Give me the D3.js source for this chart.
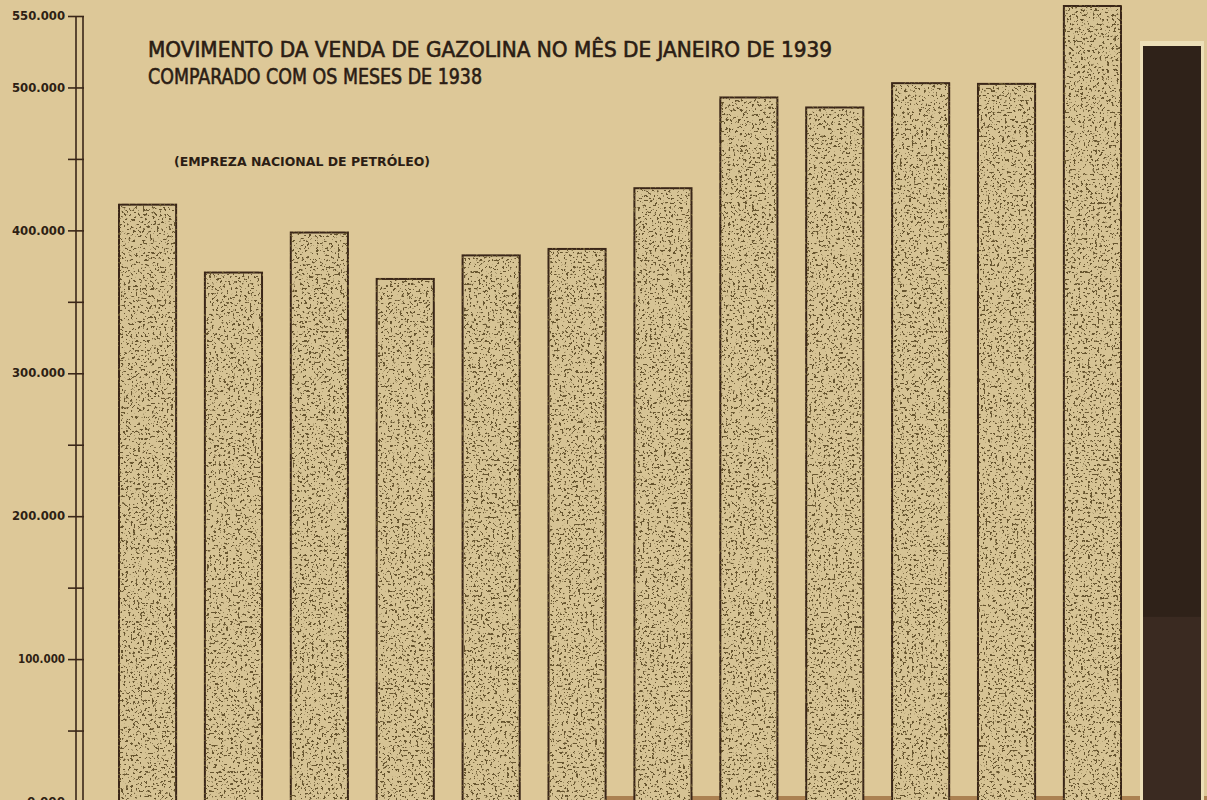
<!DOCTYPE html>
<html>
<head>
<meta charset="utf-8">
<script src="https://cdn.jsdelivr.net/npm/d3@7"></script>
<style>
  html, body { margin: 0; padding: 0; background: #ddc898; }
  svg { display: block; }
</style>
</head>
<body>
<svg id="chart" width="1207" height="800"></svg>
<script>
// ---- data ----
const months1938 = ["Jan 1938","Fev 1938","Mar 1938","Abr 1938","Mai 1938","Jun 1938",
                    "Jul 1938","Ago 1938","Set 1938","Out 1938","Nov 1938","Dez 1938"];
const months1939 = ["Jan 1939"];
const sales1938 = [418000, 370500, 398500, 366000, 382500, 387000,
                   429500, 493000, 486000, 503000, 502500, 557000];
const sales1939 = [529000];
const tickValues = [0, 50000, 100000, 150000, 200000, 250000, 300000, 350000, 400000, 450000, 500000, 550000];
const tickLabels = ["0.000", "", "100.000", "", "200.000", "", "300.000", "", "400.000", "", "500.000", "550.000"];
const titleLines = ["MOVIMENTO DA VENDA  DE GAZOLINA NO MÊS DE JANEIRO DE 1939",
                    "COMPARADO COM OS MESES DE 1938"];
const sourceNote = "(EMPREZA NACIONAL DE PETRÓLEO)";

const data1938 = months1938.map((m, i) => ({ month: m, value: sales1938[i] }));
const data1939 = months1939.map((m, i) => ({ month: m, value: sales1939[i] }));

// ---- chart ----
const svg = d3.select("#chart");
const W = 1207, H = 800;

const defs = svg.append("defs");
const f = defs.append("filter").attr("id", "stip")
  .attr("x", "-10%").attr("y", "-2%").attr("width", "120%").attr("height", "104%")
  .attr("color-interpolation-filters", "sRGB");
f.append("feTurbulence").attr("type", "fractalNoise").attr("baseFrequency", "0.42")
  .attr("numOctaves", 2).attr("seed", 11).attr("result", "n");
f.append("feColorMatrix").attr("in", "n").attr("type", "matrix")
  .attr("values", "0 0 0 0 0.40  0 0 0 0 0.33  0 0 0 0 0.18  16 0 0 0 -9.6").attr("result", "d");
f.append("feComposite").attr("in", "d").attr("in2", "SourceGraphic").attr("operator", "atop");

svg.append("rect").attr("width", W).attr("height", H).attr("fill", "#ddc898");

const y = d3.scaleLinear().domain([0, 550000]).range([802, 16]);
const x = d3.scaleBand().domain(months1938).range([119, 1121]).paddingInner(0.335).paddingOuter(0);
const x39 = d3.scaleBand().domain(months1939).range([1143, 1201]);

// bottom edge strip (photo)
svg.append("rect").attr("x", 560).attr("y", 796).attr("width", W - 560).attr("height", 4)
  .attr("fill", "#9a6a3a").attr("opacity", 0.75);

// 1938 bars
svg.append("g").selectAll("rect").data(data1938).join("rect")
  .attr("x", d => x(d.month))
  .attr("y", d => y(d.value))
  .attr("width", x.bandwidth())
  .attr("height", d => y(0) - y(d.value))
  .attr("fill", "#d6c394")
  .attr("stroke", "#3a2618")
  .attr("stroke-width", 2)
  .attr("filter", "url(#stip)");

// January 1939 bar (solid dark)
const dark = svg.append("g").selectAll("g").data(data1939).join("g");
dark.append("rect")
  .attr("x", d => x39(d.month) - 3)
  .attr("y", d => y(d.value) - 5)
  .attr("width", x39.bandwidth() + 6)
  .attr("height", d => y(0) - y(d.value) + 5)
  .attr("fill", "#ecdfb8");
dark.append("rect")
  .attr("x", d => x39(d.month))
  .attr("y", d => y(d.value))
  .attr("width", x39.bandwidth())
  .attr("height", d => y(0) - y(d.value))
  .attr("fill", "#2f2219");
dark.append("rect")
  .attr("x", d => x39(d.month))
  .attr("y", d => y(d.value * 0.245))
  .attr("width", x39.bandwidth())
  .attr("height", d => y(0) - y(d.value * 0.245))
  .attr("fill", "#3a2a21");

// axis: double vertical line + ticks
const axisG = svg.append("g");
[76, 83].forEach(xx => {
  axisG.append("line").attr("x1", xx).attr("x2", xx)
    .attr("y1", y(550000)).attr("y2", H)
    .attr("stroke", "#3a2618").attr("stroke-width", 1.6);
});
const yAxis = d3.axisLeft(y).tickValues(tickValues).tickSize(16).tickPadding(3)
  .tickFormat((d, i) => tickLabels[i]);
const ax = svg.append("g").attr("transform", "translate(84,0)").call(yAxis);
ax.select(".domain").remove();
ax.selectAll(".tick line").attr("stroke", "#3a2618").attr("stroke-width", 1.6);
ax.selectAll(".tick text")
  .attr("fill", "#2e1f14")
  .attr("font-family", "DejaVu Sans, sans-serif")
  .attr("font-weight", "bold")
  .attr("font-size", 11.5)
  .attr("textLength", function () {
    const t = d3.select(this).text();
    return t.length === 7 ? (t[0] === "1" ? 47 : 53) : 38;
  })
  .attr("lengthAdjust", "spacingAndGlyphs");

// titles
const tf = "DejaVu Sans Condensed, Liberation Sans Narrow, DejaVu Sans, sans-serif";
[0, 1].forEach(i => {
  svg.append("text").attr("x", 148).attr("y", i === 0 ? 57 : 84).text(titleLines[i])
    .attr("font-family", tf).attr("font-size", 22).attr("fill", "#2b1d14")
    .attr("stroke", "#2b1d14").attr("stroke-width", 0.6)
    .attr("textLength", i === 0 ? 684 : 334).attr("lengthAdjust", "spacingAndGlyphs");
});
svg.append("text").attr("x", 174).attr("y", 166).text(sourceNote)
  .attr("font-family", tf).attr("font-size", 13).attr("font-weight", "bold").attr("fill", "#2b1d14")
  .attr("textLength", 256).attr("lengthAdjust", "spacingAndGlyphs");
</script>
</body>
</html>
